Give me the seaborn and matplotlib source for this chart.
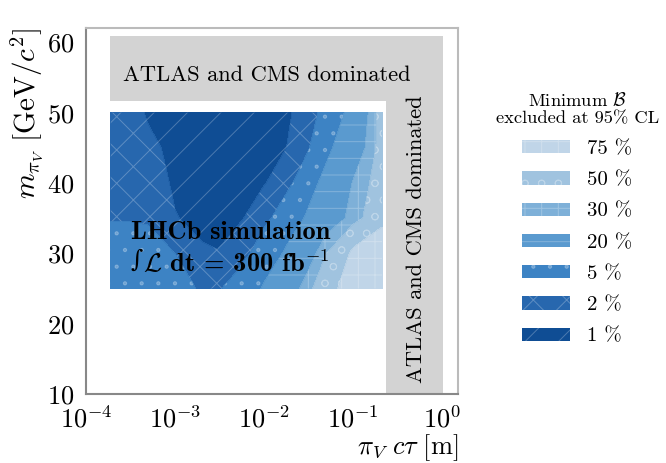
import numpy as np
import matplotlib
matplotlib.use("Agg")
import matplotlib.pyplot as plt
from matplotlib.patches import Patch
import seaborn as sns

# lifetime grid [m] and mass grid [GeV/c^2]
ctau = [1.9e-4, 3e-4, 5e-4, 1e-3, 2e-3, 3e-3, 5e-3, 1e-2, 2e-2, 3e-2, 5e-2, 0.1, 0.21]
mass = [25, 30, 35, 40, 45, 50]

# minimum branching fraction excluded at 95% CL [%], one row per mass
min_br = [
    [3.2, 3.2, 3.0, 2.5, 1.8, 1.9, 2.5, 5.5, 15, 25, 45, 60, 68],
    [3.0, 3.0, 2.8, 2.0, 1.2, 1.05, 1.5, 2.8, 6.5, 13, 30, 55, 65],
    [1.9, 1.9, 1.8, 1.05, 0.6, 0.6, 0.85, 1.7, 3.2, 5.5, 12, 25, 45],
    [1.7, 1.6, 1.4, 0.85, 0.45, 0.4, 0.5, 0.95, 1.9, 2.9, 7.0, 21, 40],
    [1.6, 1.5, 1.2, 0.7, 0.4, 0.35, 0.4, 0.65, 1.1, 1.8, 3.6, 12, 37],
    [1.6, 1.3, 0.9, 0.5, 0.4, 0.4, 0.5, 0.6, 0.98, 1.4, 2.6, 6.7, 38],
]

levels = [0, 1, 2, 5, 20, 30, 50, 75]
level_labels = ["1 %", "2 %", "5 %", "20 %", "30 %", "50 %", "75 %"]
level_colors = ["#0f4d94", "#2767ae", "#3d83c4", "#5a9acf", "#7eb0d8", "#a0c3df", "#c0d5e8"]
level_hatches = ["/", "x", ".", "-", "+", "o", "+"]

# regions dominated by ATLAS and CMS
atlas_top = ([1.86e-4, 1.02], 51.6, 60.85)
atlas_right = ([0.235, 1.02], 10, 51.6)

sns.set_style("white")
plt.rcParams["font.family"] = "serif"
plt.rcParams["font.serif"] = ["cmr10"]
plt.rcParams["mathtext.fontset"] = "cm"
plt.rcParams["axes.formatter.use_mathtext"] = True
for key in ["text.color", "axes.labelcolor", "xtick.labelcolor", "ytick.labelcolor"]:
    plt.rcParams[key] = "black"
plt.rcParams["hatch.color"] = "white"
plt.rcParams["hatch.linewidth"] = 0.7

fig = plt.figure(figsize=(6.66, 4.63), dpi=100)
ax = fig.add_axes([0.129, 0.149, 0.559, 0.790])

ax.fill_between(*atlas_top, color="#d3d3d3", lw=0)
ax.fill_between(*atlas_right, color="#d3d3d3", lw=0)

X, Y = np.meshgrid(ctau, mass)
Z = np.array(min_br)
ax.contourf(X, Y, Z, levels=levels, colors=level_colors, antialiased=False)
ax.contourf(X, Y, Z, levels=levels, colors=level_colors, hatches=level_hatches, alpha=0.25,
            antialiased=False)

ax.text(2.6e-4, 55.3, "ATLAS and CMS dominated", fontsize=16.2, va="center", ha="left")
ax.text(0.51, 32.0, "ATLAS and CMS dominated", fontsize=16.2, va="center", ha="center", rotation=90)
ax.text(3.2e-4, 34.6, "LHCb simulation", fontsize=19, family="cmb10", va="top", ha="left")
ax.text(3.2e-4, 30.6, "\u222b", fontsize=17, family="DejaVu Serif", va="top", ha="left")
ax.text(4.4e-4, 30.6, "$\\mathcal{L}$ dt = 300 fb$^{\\mathbf{-1}}$",
        fontsize=19, family="cmb10", va="top", ha="left")

ax.set_xscale("log")
ax.set_xlim(1e-4, 1.5)
ax.set_ylim(10, 62)
ax.set_yticks([10, 20, 30, 40, 50, 60])
ax.set_xlabel(r"$\pi_V\ c\tau\ [\mathrm{m}]$", fontsize=19, loc="right", labelpad=0)
ax.set_ylabel(r"$m_{\pi_V}\ [\mathrm{GeV}/c^2]$", fontsize=21, loc="top", labelpad=1)
ax.tick_params(axis="both", which="major", labelsize=19, direction="out", length=6, color="#777777", width=1)
ax.tick_params(axis="x", which="minor", direction="out", length=4, color="#999999", width=0.8)
ax.tick_params(axis="x", pad=2)
ax.tick_params(axis="y", pad=2)
for side, sp in ax.spines.items():
    sp.set_color("#888888" if side in ("left", "bottom") else "#bbbbbb")
    sp.set_linewidth(1.5)

handles = [(Patch(facecolor=c, linewidth=0), Patch(facecolor=c, hatch=h, linewidth=0, alpha=0.25))
           for c, h in zip(level_colors, level_hatches)]
leg = ax.legend(handles[::-1], level_labels[::-1], title="Minimum $\\mathcal{B}$\nexcluded at 95% CL",
                loc="upper left", bbox_to_anchor=(1.05, 0.88), frameon=False, fontsize=15,
                title_fontsize=13.3, handlelength=2.3, handleheight=0.6, labelspacing=0.64,
                handletextpad=0.8)
leg.get_title().set_multialignment("center")

fig.savefig("out.png", dpi=100)
